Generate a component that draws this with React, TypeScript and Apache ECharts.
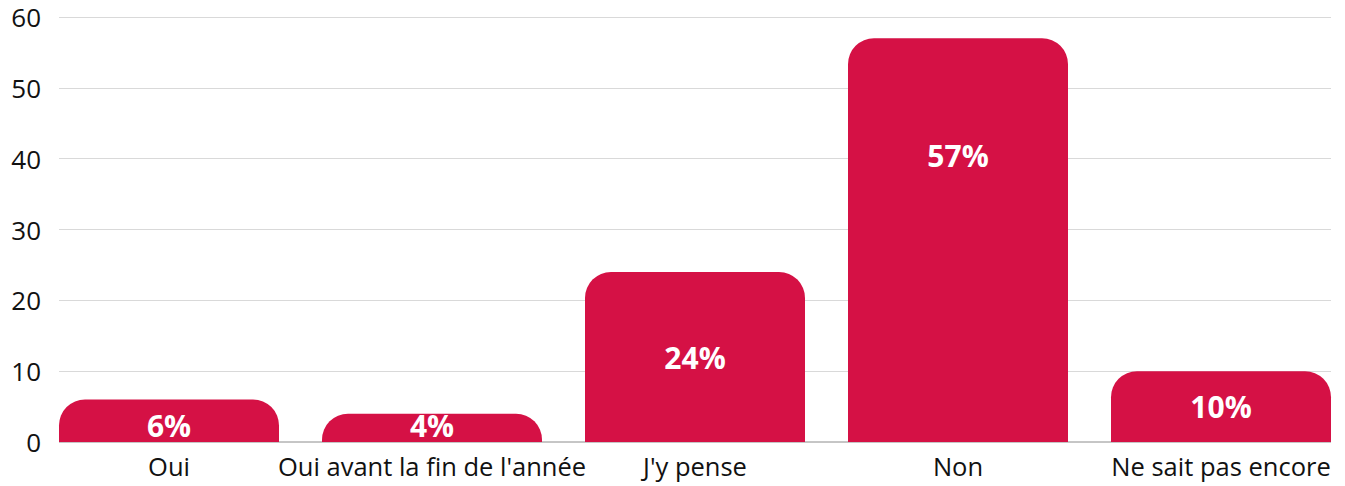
import React, { useEffect, useRef } from "react";
import * as echarts from "echarts";

const categories = ["Oui", "Oui avant la fin de l'année", "J'y pense", "Non", "Ne sait pas encore"];
const values = [6, 4, 24, 57, 10];
const labelOffsets = [[0, 5], [0, -2], [0, 0], [0, -85], [0, 0]];

const FONT = "'Open Sans', Lato, sans-serif";
const RED = "#D51145";
const SHIFT = 20;

export default function App() {
  const ref = useRef<HTMLDivElement>(null);
  useEffect(() => {
    if (!ref.current) return;
    const chart = echarts.init(ref.current, null, { renderer: "svg" });
    chart.setOption({
      animation: false,
      textStyle: { fontFamily: FONT },
      grid: [
        { left: 37.5 + SHIFT, width: 1315, top: 17, bottom: 44, containLabel: false },
        { left: 59 + SHIFT, width: 1272, top: 17, bottom: 44, containLabel: false },
      ],
      xAxis: [
        {
          type: "category",
          gridIndex: 0,
          data: categories,
          axisLine: { show: false },
          axisTick: { show: false },
          axisLabel: { color: "#111", fontSize: 25.5, fontFamily: FONT, margin: 11, interval: 0 },
        },
        {
          type: "value",
          gridIndex: 1,
          show: false,
          min: 0,
          max: 1,
        },
      ],
      yAxis: [
        {
          type: "value",
          gridIndex: 0,
          min: 0,
          max: 60,
          interval: 10,
          show: false,
        },
        {
          type: "value",
          gridIndex: 1,
          min: 0,
          max: 60,
          interval: 10,
          axisLine: { show: false },
          axisTick: { show: false },
          axisLabel: { color: "#111", fontSize: 26, fontFamily: FONT, margin: 18 },
          splitLine: { lineStyle: { color: "#d9d9d9", width: 1 } },
        },
      ],
      series: [
        {
          type: "line",
          xAxisIndex: 1,
          yAxisIndex: 1,
          data: [[0, 0], [1, 0]],
          symbol: "none",
          lineStyle: { color: "#8c8c8c", width: 1 },
          silent: true,
          z: 1,
        },
        {
          type: "bar",
          xAxisIndex: 0,
          yAxisIndex: 0,
          barWidth: 220,
          z: 3,
          data: values.map((v, i) => ({
            value: v,
            label: { offset: labelOffsets[i] },
          })),
          itemStyle: { color: RED, borderRadius: [26, 26, 0, 0] },
          label: {
            show: true,
            position: "inside",
            formatter: "{c}%",
            color: "#fff",
            fontWeight: "bold",
            fontSize: 30,
            fontFamily: FONT,
          },
        },
      ],
    });
    return () => chart.dispose();
  }, []);
  return (
    <div
      ref={ref}
      style={{ position: "fixed", left: -SHIFT, top: 0, width: 1345 + 2 * SHIFT, height: 486, background: "#fff" }}
    />
  );
}
